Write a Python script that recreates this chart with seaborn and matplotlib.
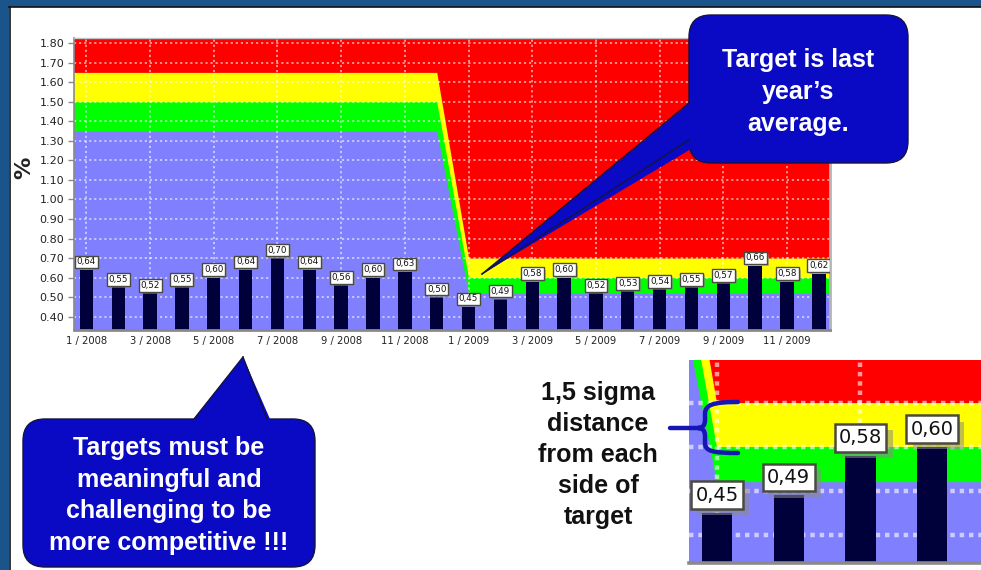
import numpy as np
import pandas as pd
import matplotlib
matplotlib.use("Agg")
import matplotlib.pyplot as plt
import matplotlib.patheffects as pe
from matplotlib.patches import FancyBboxPatch, Polygon, Rectangle, PathPatch
from matplotlib.path import Path
from matplotlib.lines import Line2D
import seaborn as sns

# ---- data -----------------------------------------------------------------
months = ["1 / 2008", "2 / 2008", "3 / 2008", "4 / 2008", "5 / 2008", "6 / 2008",
          "7 / 2008", "8 / 2008", "9 / 2008", "10 / 2008", "11 / 2008", "12 / 2008",
          "1 / 2009", "2 / 2009", "3 / 2009", "4 / 2009", "5 / 2009", "6 / 2009",
          "7 / 2009", "8 / 2009", "9 / 2009", "10 / 2009", "11 / 2009", "12 / 2009"]
values = [0.64, 0.55, 0.52, 0.55, 0.60, 0.64, 0.70, 0.64, 0.56, 0.60, 0.63, 0.50,
          0.45, 0.49, 0.58, 0.60, 0.52, 0.53, 0.54, 0.55, 0.57, 0.66, 0.58, 0.62]

# yearly target bands (target +/- 1,5 sigma)
band_years = ["2008", "2009"]
band_lower = [1.35, 0.52]
band_target = [1.50, 0.60]
band_upper = [1.65, 0.70]
months_per_year = 12

y_ticks = [0.40, 0.50, 0.60, 0.70, 0.80, 0.90, 1.00, 1.10, 1.20, 1.30,
           1.40, 1.50, 1.60, 1.70, 1.80]

df = pd.DataFrame({"month": months, "value": values})

# ---- colours --------------------------------------------------------------
BAR = "#00003a"
BLUE_AREA = "#8080ff"
GREEN = "#00ff00"
YELLOW = "#ffff00"
RED = "#ff0000"
CALLOUT = "#0a0ac4"
CALLOUT_EDGE = "#14143c"
SLIDE_BLUE = "#1b548a"

W, H = 981, 570
fig = plt.figure(figsize=(W / 100, H / 100), dpi=100, facecolor="white")


def draw_panel(ax, label_size, pad, gap, shadow, box_lw, grid_lw, grid_dash):
    x = np.arange(len(months))
    lo = np.repeat(band_lower, months_per_year)
    tg = np.repeat(band_target, months_per_year)
    up = np.repeat(band_upper, months_per_year)
    xb = np.r_[-1, x, len(x)]
    lo = np.r_[lo[0], lo, lo[-1]]
    tg = np.r_[tg[0], tg, tg[-1]]
    up = np.r_[up[0], up, up[-1]]
    # layered fills from the bottom so neighbouring zones leave no seams
    ax.fill_between(xb, -1, 3, color=RED, lw=0, zorder=0.10)
    ax.fill_between(xb, -1, up, color=YELLOW, lw=0, zorder=0.11)
    ax.fill_between(xb, -1, tg, color=GREEN, lw=0, zorder=0.12)
    ax.fill_between(xb, -1, lo, color=BLUE_AREA, lw=0, zorder=0.13)

    sns.barplot(data=df, x="month", y="value", order=months, color=BAR,
                saturation=1, width=0.42, errorbar=None, linewidth=0,
                ax=ax, zorder=2)

    ax.set_axisbelow(True)
    ax.grid(True, color="white", alpha=0.6, linestyle=(0, grid_dash),
            linewidth=grid_lw)

    for i, v in enumerate(values):
        t = ax.annotate(f"{v:.2f}".replace(".", ","), xy=(i, v),
                        xytext=(0, gap), textcoords="offset points",
                        ha="center", va="bottom", fontsize=label_size,
                        color="#111111", zorder=5,
                        bbox=dict(boxstyle=f"square,pad={pad}", fc="white",
                                  ec="#4a4a40", lw=box_lw))
        t.set_clip_box(ax.bbox)
        t.set_clip_on(True)
        t.get_bbox_patch().set_path_effects([
            pe.SimplePatchShadow(offset=(shadow, -shadow),
                                 shadow_rgbFace="#8c8c8c", alpha=0.55),
            pe.Normal()])


# ---- main chart -----------------------------------------------------------
ax = fig.add_axes([74 / W, 1 - 330 / H, (830 - 74) / W, (330 - 38) / H])
draw_panel(ax, label_size=6.3, pad=0.2, gap=2.5, shadow=1.6, box_lw=1.0,
           grid_lw=1.3, grid_dash=(1.2, 1.6))
ax.set_xlim(-0.39, 23.35)
ax.set_ylim(0.332, 1.826)
ax.set_yticks(y_ticks)
ax.set_yticklabels([f"{v:.2f}" for v in y_ticks])
ax.set_xticks(range(0, len(months), 2))
ax.set_xticklabels(months[::2])
ax.tick_params(axis="y", length=4, width=1, color="#8a8a8a", labelsize=8,
               labelcolor="#222222", pad=3)
ax.tick_params(axis="x", length=0, labelsize=7.2, labelcolor="#222222", pad=4)
ax.set_xlabel("")
ax.set_ylabel("%", fontsize=16, fontweight="bold", color="#222222")
ax.yaxis.set_label_coords(-0.052, 0.555)
for side, col, lw in [("left", "#8a8a8a", 1.2), ("bottom", "#8a8a8a", 2.0),
                      ("right", "#b4b4b4", 2.0), ("top", "#c4c4c4", 1.0)]:
    ax.spines[side].set_color(col)
    ax.spines[side].set_linewidth(lw)

# ---- magnified view around the change of target ---------------------------
axin = fig.add_axes([689 / W, 1 - 563 / H, (W - 689) / W, (563 - 360) / H])
draw_panel(axin, label_size=14, pad=0.22, gap=6, shadow=4.5, box_lw=1.8,
           grid_lw=3.2, grid_dash=(1.0, 1.1))
axin.set_xlim(11.61, 15.68)
axin.set_ylim(0.336, 0.798)
axin.set_xticks([12, 14])
axin.set_yticks([0.40, 0.50, 0.60, 0.70])
axin.tick_params(length=0, labelbottom=False, labelleft=False)
axin.set_xlabel("")
axin.set_ylabel("")
for side in ("left", "right", "top"):
    axin.spines[side].set_visible(False)
axin.spines["bottom"].set_color("#8a8a8a")
axin.spines["bottom"].set_linewidth(2.6)

# ---- slide overlay: frame, callouts, brace --------------------------------
ov = fig.add_axes([0, 0, 1, 1], zorder=10)
ov.set_xlim(0, W)
ov.set_ylim(H, 0)
ov.axis("off")
ov.patch.set_alpha(0)

ov.add_patch(Rectangle((0, 0), 9, H, color=SLIDE_BLUE, lw=0))
ov.add_patch(Rectangle((0, 0), W, 6.5, color=SLIDE_BLUE, lw=0))
ov.add_line(Line2D([9.7, 9.7], [7, H], color="#111111", lw=1.2))
ov.add_line(Line2D([9, W], [7, 7], color="#111111", lw=1.2))


def callout(box, pointer, lines, centre_x, line_ys):
    x0, y0, w, h = box
    ov.add_patch(FancyBboxPatch((x0, y0), w, h,
                                boxstyle="round,pad=0,rounding_size=22",
                                fc=CALLOUT, ec=CALLOUT_EDGE, lw=1.0, zorder=1))
    (a, tip, b), (a_in, b_in) = pointer
    ov.add_patch(Polygon([a_in, tip, b_in], closed=True, fc=CALLOUT,
                         ec="none", zorder=2))
    ov.add_line(Line2D([a[0], tip[0]], [a[1], tip[1]], color=CALLOUT_EDGE,
                       lw=1.0, zorder=3))
    ov.add_line(Line2D([b[0], tip[0]], [b[1], tip[1]], color=CALLOUT_EDGE,
                       lw=1.0, zorder=3))
    for txt, yy in zip(lines, line_ys):
        ov.text(centre_x, yy, txt, ha="center", va="center", color="white",
                fontsize=18, fontweight="bold", family="Liberation Sans",
                zorder=4)


callout((689, 15, 219, 148),
        (((689, 103), (482, 274), (689, 140)), ((696, 98), (696, 146))),
        ["Target is last", "year\u2019s", "average."], 798.5, [60, 92, 124])

callout((23, 419, 292, 148),
        (((194, 419), (243, 357), (267, 419)), ((188, 426), (273, 426))),
        ["Targets must be", "meaningful and", "challenging to be",
         "more competitive !!!"], 169, [448, 480, 511, 543])

for txt, yy in zip(["1,5 sigma", "distance", "from each", "side of", "target"],
                   [393, 424, 455, 486, 517]):
    ov.text(598, yy, txt, ha="center", va="center", color="#111111",
            fontsize=18, fontweight="bold", family="Liberation Sans")

brace = Path(
    [(670, 428), (700, 428),
     (738, 402), (712, 402), (705, 405), (705, 414),
     (705, 420), (705, 426), (702, 428), (698, 428),
     (702, 428), (705, 430), (705, 436),
     (705, 443), (705, 451), (712, 453), (738, 453)],
    [Path.MOVETO, Path.LINETO,
     Path.MOVETO, Path.CURVE4, Path.CURVE4, Path.CURVE4,
     Path.LINETO, Path.CURVE4, Path.CURVE4, Path.CURVE4,
     Path.CURVE4, Path.CURVE4, Path.CURVE4,
     Path.LINETO, Path.CURVE4, Path.CURVE4, Path.CURVE4])
ov.add_patch(PathPatch(brace, fc="none", ec="#1616b4", lw=3.2,
                       capstyle="round", joinstyle="round"))

fig.savefig("out.png", dpi=100, facecolor="white")
